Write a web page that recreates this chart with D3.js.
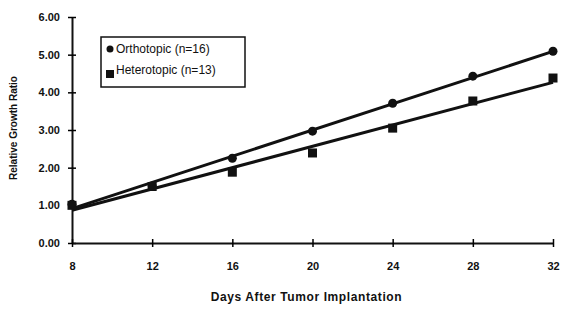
<!DOCTYPE html>
<html>
<head>
<meta charset="utf-8">
<script src="https://cdn.jsdelivr.net/npm/d3@7"></script>
<style>
  body { margin: 0; background: #fff; }
  text { font-family: "Liberation Sans", Arial, sans-serif; fill: #111; }
</style>
</head>
<body>
<div id="chart"></div>
<script>
// Data
const days = [8, 12, 16, 20, 24, 28, 32];
const orthotopic = [1.03, 1.51, 2.25, 2.97, 3.71, 4.43, 5.09];
const heterotopic = [1.00, 1.50, 1.88, 2.39, 3.05, 3.77, 4.38];
const yTicks = [0, 1, 2, 3, 4, 5, 6];
const seriesNames = ["Orthotopic (n=16)", "Heterotopic (n=13)"];

const W = 564, H = 311;
const margin = { top: 17, right: 11, bottom: 68, left: 72 };
const width = W - margin.left - margin.right,
      height = H - margin.top - margin.bottom;

const svg = d3.select("#chart").append("svg")
    .attr("width", W).attr("height", H);
const g = svg.append("g")
    .attr("transform", `translate(${margin.left},${margin.top})`);

const x = d3.scaleLinear().domain([8, 32]).range([0, width]);
const y = d3.scaleLinear().domain([0, 6]).range([height, 0]);

// Y axis
const yAxis = g.append("g")
    .call(d3.axisLeft(y).tickValues(yTicks).tickFormat(d3.format(".2f"))
      .tickSizeInner(4).tickSizeOuter(0).tickPadding(8));
yAxis.select(".domain").attr("stroke", "#111").attr("stroke-width", 2);
yAxis.selectAll(".tick line").attr("x2", 4).attr("x1", -4).attr("stroke-width", 1.5);
yAxis.selectAll("text").style("font-size", "11px").style("font-weight", "bold");

// X axis
const xAxis = g.append("g")
    .attr("transform", `translate(0,${height})`)
    .call(d3.axisBottom(x).tickValues(days).tickFormat(d3.format("d"))
      .tickSizeInner(4).tickSizeOuter(0).tickPadding(15));
xAxis.select(".domain").attr("stroke", "#111").attr("stroke-width", 2);
xAxis.selectAll(".tick line").attr("y1", -4).attr("y2", 4).attr("stroke-width", 1.5);
xAxis.selectAll("text").style("font-size", "11px").style("font-weight", "bold");

// Axis titles
svg.append("text")
    .attr("transform", `translate(17,${margin.top + height / 2 - 2}) rotate(-90)`)
    .attr("text-anchor", "middle")
    .style("font-size", "10px").style("font-weight", "bold")
    .text("Relative Growth Ratio");

svg.append("text")
    .attr("x", margin.left + width / 2 - 6)
    .attr("y", 301)
    .attr("text-anchor", "middle")
    .style("font-size", "12px").style("font-weight", "bold")
    .style("letter-spacing", "0.6px")
    .text("Days After Tumor Implantation");

// Linear trend lines (least squares fit of each series)
function fit(ys) {
  const mx = d3.mean(days), my = d3.mean(ys);
  const b = d3.sum(days, (d, i) => (d - mx) * (ys[i] - my)) / d3.sum(days, d => (d - mx) ** 2);
  const a = my - b * mx;
  return [[8, a + b * 8], [32, a + b * 32]];
}
const line = d3.line().x(d => x(d[0])).y(d => y(d[1]));
[orthotopic, heterotopic].forEach(s => {
  g.append("path")
    .attr("d", line(fit(s)))
    .attr("fill", "none")
    .attr("stroke", "#111")
    .attr("stroke-width", 3);
});

// Markers
g.append("g").selectAll("circle")
  .data(days.map((d, i) => [d, orthotopic[i]]))
  .join("circle")
    .attr("cx", d => x(d[0]))
    .attr("cy", d => y(d[1]))
    .attr("r", 4.5)
    .attr("fill", "#111");

g.append("g").selectAll("rect")
  .data(days.map((d, i) => [d, heterotopic[i]]))
  .join("rect")
    .attr("x", d => x(d[0]) - 4.5)
    .attr("y", d => y(d[1]) - 4.5)
    .attr("width", 9).attr("height", 9)
    .attr("fill", "#111");

// Legend
const legend = svg.append("g").attr("transform", "translate(101,37)");
legend.append("rect")
    .attr("width", 144).attr("height", 50)
    .attr("fill", "#fff").attr("stroke", "#111").attr("stroke-width", 1.5);
legend.append("circle").attr("cx", 9).attr("cy", 12).attr("r", 3.5).attr("fill", "#111");
legend.append("rect").attr("x", 5).attr("y", 33).attr("width", 8).attr("height", 8).attr("fill", "#111");
legend.selectAll("text.lab")
  .data(seriesNames)
  .join("text")
    .attr("class", "lab")
    .attr("x", 15)
    .attr("y", (d, i) => 16 + i * 21)
    .style("font-size", "12px")
    .text(d => d);
</script>
</body>
</html>
